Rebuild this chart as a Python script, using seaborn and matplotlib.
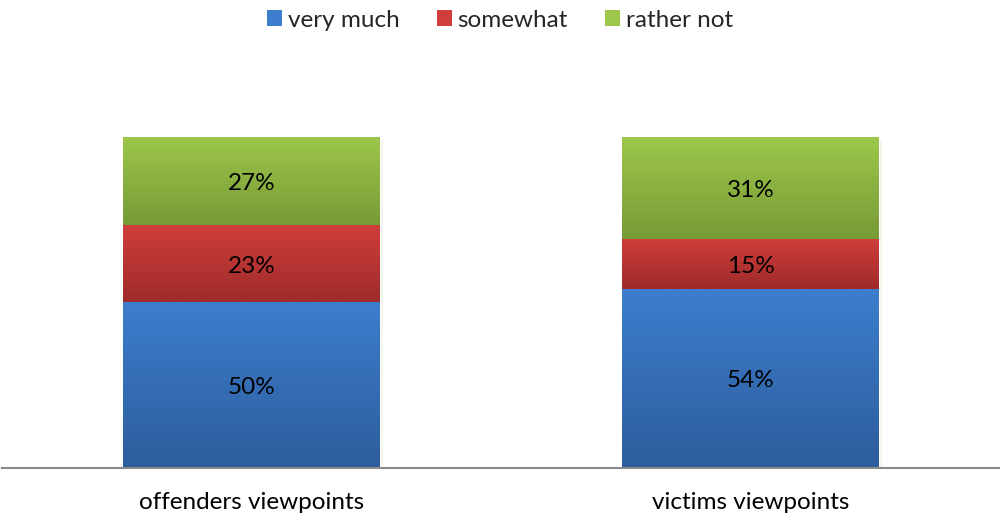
import numpy as np
import pandas as pd
import matplotlib
matplotlib.use("Agg")
import matplotlib.pyplot as plt
import matplotlib.patheffects as pe
from matplotlib.colors import LinearSegmentedColormap
import seaborn as sns

# data
groups = ["offenders viewpoints", "victims viewpoints"]
answers = ["very much", "somewhat", "rather not"]
very_much = [50, 54]
somewhat = [23, 15]
rather_not = [27, 31]

# colours (top of segment, bottom of segment)
TOP = {"very much": "#3C7DCD", "somewhat": "#CF3E3B", "rather not": "#9DC74B"}
BOT = {"very much": "#2D5D9C", "somewhat": "#9E2B2A", "rather not": "#779A35"}
FS = 17.5

sns.set_theme(style="white")
plt.rcParams["font.family"] = ["Lato", "DejaVu Sans"]

vals = {"very much": very_much, "somewhat": somewhat, "rather not": rather_not}
df = pd.DataFrame({"group": groups, **vals})
df["c1"] = df["very much"]
df["c2"] = df["c1"] + df["somewhat"]
df["c3"] = df["c2"] + df["rather not"]

fig = plt.figure(figsize=(10, 5.22), dpi=100)
ax = fig.add_axes([0.002, (522 - 468) / 522, 0.998, (468 - 137) / 522])

# cumulative bars, tallest first so lower segments sit on top
order = [("rather not", "c3", "c2"), ("somewhat", "c2", "c1"), ("very much", "c1", None)]
bar_w = 256 / 498
for name, top_col, bot_col in order:
    n0 = len(ax.patches)
    sns.barplot(data=df, x="group", y=top_col, color=TOP[name], width=bar_w,
                ax=ax, saturation=1)
    for i, p in enumerate(ax.patches[n0:]):
        x0 = p.get_x()
        x1 = x0 + p.get_width()
        top = p.get_height()
        bot = df[bot_col].iloc[i] if bot_col else 0
        if name == "rather not":
            p.set_path_effects([pe.SimplePatchShadow(offset=(2, -2), alpha=0.12, rho=0.9),
                                pe.Normal()])
        cmap = LinearSegmentedColormap.from_list(name, [BOT[name], TOP[name]])
        grad = np.linspace(0, 1, 128).reshape(-1, 1)
        ax.imshow(grad, cmap=cmap, origin="lower", aspect="auto",
                  extent=[x0, x1, bot, top], zorder=3 + len(ax.images) * 0.01)
        ax.text((x0 + x1) / 2, (bot + top) / 2, f"{vals[name][i]}%", ha="center",
                va="center_baseline", fontsize=FS, color="black", zorder=10)

ax.set_xlim(-0.5, 1.5)
ax.set_ylim(0, 100)
ax.set_xlabel("")
ax.set_ylabel("")
ax.set_yticks([])
ax.tick_params(axis="x", length=0, pad=17, labelsize=FS, labelcolor="black")
for s in ["top", "left", "right"]:
    ax.spines[s].set_visible(False)
ax.spines["bottom"].set_color("#8a8a8a")
ax.spines["bottom"].set_linewidth(1.5)
ax.spines["bottom"].set_zorder(20)

# legend
handles = [plt.Rectangle((0, 0), 1, 1, facecolor=TOP[a], edgecolor="none") for a in answers]
fig.legend(handles, answers, loc="upper center", bbox_to_anchor=(0.5, 1.0), ncol=3,
           frameon=False, fontsize=FS, handlelength=0.62, handleheight=0.62,
           handletextpad=0.25, columnspacing=1.5, borderaxespad=0.0)

fig.savefig("out.png", dpi=100)
